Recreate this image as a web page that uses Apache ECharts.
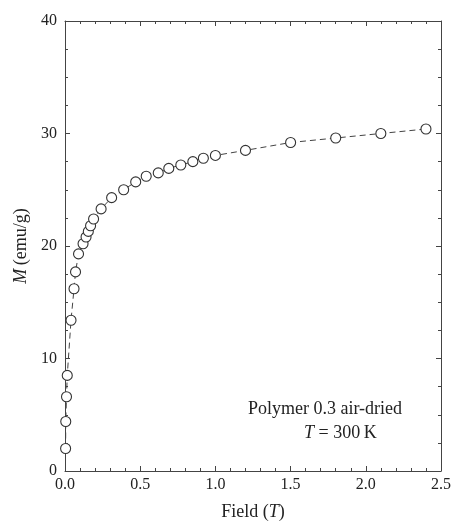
<!DOCTYPE html>
<html>
<head>
<meta charset="utf-8">
<script src="https://cdn.jsdelivr.net/npm/echarts@6/dist/echarts.min.js"></script>
<style>html,body{margin:0;padding:0;background:#fff}#c{width:454px;height:526px}</style>
</head>
<body>
<div id="c"></div>
<script>
const fieldT = [0.004, 0.005, 0.01, 0.015, 0.04, 0.06, 0.07, 0.09, 0.12, 0.14, 0.155, 0.17, 0.19, 0.24, 0.31, 0.39, 0.47, 0.54, 0.62, 0.69, 0.77, 0.85, 0.92, 1.0, 1.2, 1.5, 1.8, 2.1, 2.4];
const magM = [2.0, 4.4, 6.6, 8.5, 13.4, 16.2, 17.7, 19.3, 20.2, 20.8, 21.3, 21.8, 22.4, 23.3, 24.3, 25.0, 25.7, 26.2, 26.5, 26.9, 27.2, 27.5, 27.8, 28.05, 28.5, 29.2, 29.6, 30.0, 30.4];
const xTicks = [0, 0.5, 1.0, 1.5, 2.0, 2.5];
const yTicks = [0, 10, 20, 30, 40];
const annotation = ['Polymer 0.3 air-dried', 'T = 300 K'];

const font = 'Liberation Serif, DejaVu Serif, serif';
const axisColor = '#444';
const chart = echarts.init(document.getElementById('c'));
const pts = fieldT.map((x, i) => [x, magM[i]]);
const axisCommon = {
  axisLine: {show: true, onZero: false, lineStyle: {color: axisColor, width: 1}},
  axisTick: {show: true, inside: true, length: 5, lineStyle: {color: axisColor}},
  minorTick: {show: true, length: 3, lineStyle: {color: axisColor}},
  splitLine: {show: false}
};
chart.setOption({
  animation: false,
  backgroundColor: '#fff',
  grid: {left: 65, right: 13, top: 21, bottom: 53, containLabel: false},
  xAxis: [
    Object.assign({}, axisCommon, {
      type: 'value', min: xTicks[0], max: xTicks[xTicks.length - 1], interval: 0.5, position: 'bottom',
      minorTick: Object.assign({}, axisCommon.minorTick, {splitNumber: 5}),
      axisLabel: {color: '#222', fontFamily: font, fontSize: 16, margin: 6,
        formatter: v => v.toFixed(1)},
      name: '{n|Field (}{i|T}{n|)}', nameLocation: 'middle', nameGap: 32,
      nameTextStyle: {rich: {
        n: {fontFamily: font, fontSize: 18, color: '#222'},
        i: {fontFamily: font, fontSize: 18, color: '#222', fontStyle: 'italic'}}}
    }),
    Object.assign({}, axisCommon, {
      type: 'value', min: xTicks[0], max: xTicks[xTicks.length - 1], interval: 0.5, position: 'top',
      minorTick: Object.assign({}, axisCommon.minorTick, {splitNumber: 5}),
      axisLabel: {show: false}
    })
  ],
  yAxis: [
    Object.assign({}, axisCommon, {
      type: 'value', min: yTicks[0], max: yTicks[yTicks.length - 1], interval: 10, position: 'left',
      minorTick: Object.assign({}, axisCommon.minorTick, {splitNumber: 4}),
      axisLabel: {color: '#222', fontFamily: font, fontSize: 16, margin: 8},
      name: '{i|M} {n|(emu/g)}', nameLocation: 'middle', nameGap: 27, nameRotate: 90,
      nameTextStyle: {rich: {
        n: {fontFamily: font, fontSize: 18, color: '#222'},
        i: {fontFamily: font, fontSize: 18, color: '#222', fontStyle: 'italic'}}}
    }),
    Object.assign({}, axisCommon, {
      type: 'value', min: yTicks[0], max: yTicks[yTicks.length - 1], interval: 10, position: 'right',
      minorTick: Object.assign({}, axisCommon.minorTick, {splitNumber: 4}),
      axisLabel: {show: false}
    })
  ],
  series: [{
    type: 'line',
    xAxisIndex: 0, yAxisIndex: 0,
    data: pts,
    symbol: 'circle', symbolSize: 10, showSymbol: true,
    lineStyle: {color: '#444', width: 1, type: [6, 4]},
    itemStyle: {color: '#fff', borderColor: '#333', borderWidth: 1.1}
  }],
  graphic: [
    {type: 'text', left: 248, top: 400,
      style: {text: annotation[0], font: '18px ' + font, fill: '#222'}},
    {type: 'text', left: 304, top: 424,
      style: {text: '{i|T} = 300\u2009K', font: '18px ' + font, fill: '#222',
        rich: {i: {fontFamily: font, fontSize: 18, fontStyle: 'italic', color: '#222'}}}}
  ]
});
</script>
</body>
</html>
